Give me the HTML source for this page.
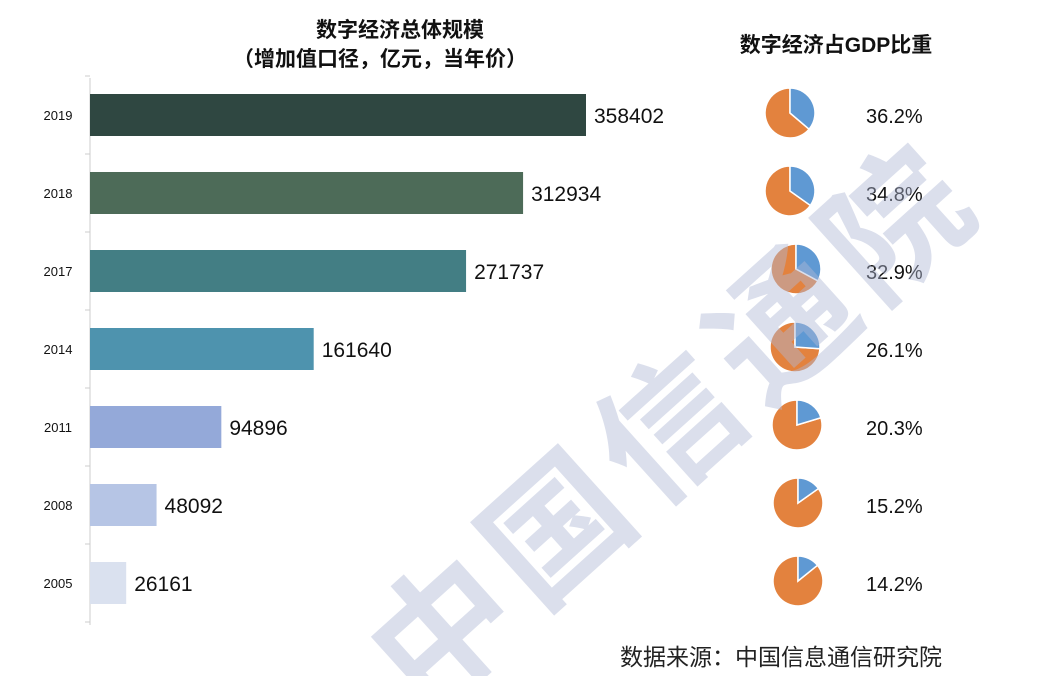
<!DOCTYPE html>
<html><head><meta charset="utf-8"><style>
html,body{margin:0;padding:0;background:#fff;width:1062px;height:676px;overflow:hidden}
svg text{font-family:"Liberation Sans","Noto Sans CJK SC",sans-serif}
</style></head><body>
<svg id="c" width="1062" height="676" xmlns="http://www.w3.org/2000/svg">
<text x="400" y="37" text-anchor="middle" font-size="21" font-weight="bold" fill="#111">数字经济总体规模</text>
<text x="380" y="66" text-anchor="middle" font-size="21" font-weight="bold" fill="#111">（增加值口径，亿元，当年价）</text>
<text x="836" y="52" text-anchor="middle" font-size="21" font-weight="bold" fill="#111">数字经济占GDP比重</text>
<g id="bars"></g>
<g id="pies"></g>
<text x="675" y="425" text-anchor="middle" dominant-baseline="central" font-size="140" font-weight="bold" fill="rgba(175,185,212,0.45)" transform="rotate(-42 675 425)" style="letter-spacing:12px">中国信通院</text>
<text x="942" y="665" text-anchor="end" font-size="23" fill="#222" font-family="'Noto Serif CJK SC',serif">数据来源：中国信息通信研究院</text>
</svg>
<script>
const years=["2019","2018","2017","2014","2011","2008","2005"];
const values=[358402,312934,271737,161640,94896,48092,26161];
const shares=[36.2,34.8,32.9,26.1,20.3,15.2,14.2];
const colors=["#2f4741","#4d6b58","#437e84","#4e93ae","#94a9d9","#b6c5e5","#dae1ef"];
const NS="http://www.w3.org/2000/svg";
const x0=90,scale=(586-90)/358402,top0=76,pitch=78,bh=42;
const xs=v=>x0+v*scale;
const yc=i=>top0+pitch*i+pitch/2;
const bars=document.getElementById('bars'),pies=document.getElementById('pies');
function mk(tag,attrs,parent){const e=document.createElementNS(NS,tag);for(const k in attrs)e.setAttribute(k,attrs[k]);parent.appendChild(e);return e;}
const ax=mk('line',{x1:x0,y1:78,x2:x0,y2:625,stroke:'#ccc','stroke-width':1},bars);


for(let i=0;i<=years.length;i++){const t=mk('line',{x1:x0-5,x2:x0,y1:top0+pitch*i,y2:top0+pitch*i,stroke:'#ccc'},bars);

}
const pcx=[790,790,796,795,797,798,798];
years.forEach((y,i)=>{
  const c=yc(i);
  const r=mk('rect',{x:x0,y:c-bh/2,width:xs(values[i])-x0,height:bh,fill:colors[i]},bars);
  
  
  const l=mk('text',{x:58,y:c+5,'text-anchor':'middle','font-size':13,fill:'#111'},bars);l.textContent=y;
  
  
  const v=mk('text',{x:xs(values[i])+8,y:c+8,'font-size':21,fill:'#111'},bars);v.textContent=values[i];
  
  
  const cx=pcx[i],cy=c-2,R=25,a=shares[i]/100*2*Math.PI;
  const ex=cx+R*Math.sin(a),ey=cy-R*Math.cos(a),lg=shares[i]>50?1:0;
  const o=mk('path',{d:`M${cx},${cy} L${ex},${ey} A${R},${R} 0 ${1-lg} 1 ${cx},${cy-R} Z`,fill:'#e3823e',stroke:'#fff','stroke-width':1.5},pies);
  
  
  const b=mk('path',{d:`M${cx},${cy} L${cx},${cy-R} A${R},${R} 0 ${lg} 1 ${ex},${ey} Z`,fill:'#5f99d3',stroke:'#fff','stroke-width':1.5},pies);
  
  
  const p=mk('text',{x:866,y:c+8,'font-size':20,fill:'#111'},pies);p.textContent=shares[i].toFixed(1)+'%';
  
  
});
</script>
</body></html>
